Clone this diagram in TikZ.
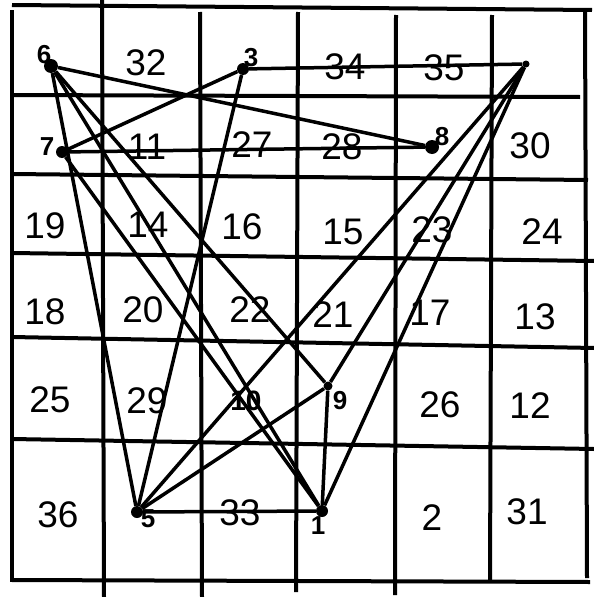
\documentclass[tikz,border=0pt]{standalone}
\usepackage{fontspec}
\setmainfont{Liberation Sans}
\begin{document}
\begin{tikzpicture}[x=1pt,y=-1pt,
  grid/.style={line width=4pt},
  link/.style={line width=3.5pt},
  pt/.style={circle,fill,inner sep=0pt,minimum size=12pt},
  ptlab/.style={font=\fontsize{26}{26}\selectfont\bfseries,inner sep=0pt},
  num/.style={font=\fontsize{37}{37}\selectfont,inner sep=0pt}]
  \useasboundingbox[fill=white] (0,0) rectangle (594,597);
  % the hand drawn grid
  \draw[grid] (12,5) -- (592,10);
  \draw[grid] (12,95) -- (580,97);
  \draw[grid] (12,174) -- (588,180);
  \draw[grid] (12,253) -- (594,261);
  \draw[grid] (12,337) -- (594,348);
  \draw[grid] (12,439) -- (594,449);
  \draw[grid] (12,580) -- (590,582);
  \draw[grid] (12,10) -- (12,582);
  \draw[grid] (102,0) -- (104,597);
  \draw[grid] (200,12) -- (202,597);
  \draw[grid] (298,12) -- (296,592);
  \draw[grid] (396,15) -- (395,595);
  \draw[grid] (492,15) -- (490,582);
  \draw[grid] (585,10) -- (587,578);
  % numbers in the cells
  \foreach \x/\y/\t in {146/63/32, 345/67/34, 444/68/35,
      147/147/11, 252/145/27, 342/147/28, 530/146/30,
      45/226/19, 148/225/14, 242/227/16, 343/232/15, 432/230/23, 542/232/24,
      45/312/18, 143/310/20, 250/310/22, 333/315/21, 430/313/17, 535/317/13,
      50/400/25, 147/401/29, 440/405/26, 530/406/12,
      58/515/36, 240/513/33, 432/518/2, 527/512/31}
    \node[num] (c\t) at (\x,\y) {\t};
  % marked squares
  \node[pt] (p1) at (322,511) {};
  \node[pt] (p3) at (243,69) {};
  \node[pt,minimum size=7pt] (p4) at (526,64) {};
  \node[pt] (p5) at (137,512) {};
  \node[pt,minimum size=14pt] (p6) at (51,66) {};
  \node[pt] (p7) at (62,152) {};
  \node[pt,minimum size=14pt] (p8) at (432,147) {};
  \node[pt,minimum size=9pt] (p9) at (328,386) {};
  \node[ptlab] (l1) at (318,526) {1};
  \node[ptlab] (l3) at (251,58) {3};
  \node[ptlab] (l5) at (148,519) {5};
  \node[ptlab] (l6) at (44,55) {6};
  \node[ptlab] (l7) at (47,147) {7};
  \node[ptlab] (l8) at (442,137) {8};
  \node[ptlab] (l9) at (340,401) {9};
  \node[ptlab,font=\fontsize{28}{28}\selectfont\bfseries] (p10) at (246,401) {10};
  % the moves
  \draw[link] (p6) -- (p8);
  \draw[link] (p6) -- (p5);
  \draw[link] (p6) -- (p1);
  \draw[link] (p6) -- (p9);
  \draw[link] (p7) -- (p3);
  \draw[link] (p7) -- (p8);
  \draw[link] (p7) -- (p1);
  \draw[link] (p3) -- (p4);
  \draw[link] (p3) -- (p5);
  \draw[link] (p4) -- (p5);
  \draw[link] (p4) -- (p9);
  \draw[link] (p4) -- (p1);
  \draw[link] (p5) -- (p9);
  \draw[link] (p5) -- (p1);
  \draw[link] (p1) -- (p9);
\end{tikzpicture}
\end{document}
